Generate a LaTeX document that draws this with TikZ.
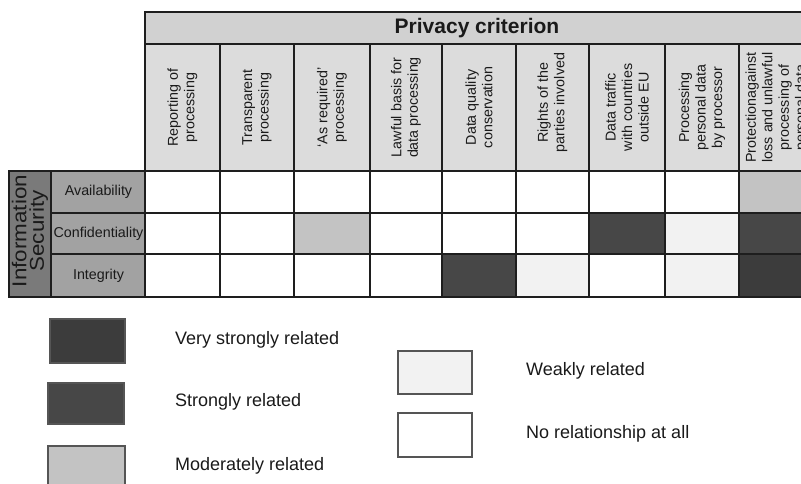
\documentclass[tikz,border=0pt]{standalone}
\usepackage{fontspec}
\setmainfont{Liberation Sans}
\definecolor{gridline}{HTML}{1E1E1E}
\definecolor{bandfill}{HTML}{D1D1D1}
\definecolor{headfill}{HTML}{DCDCDC}
\definecolor{rowfill}{HTML}{A2A2A2}
\definecolor{secfill}{HTML}{7A7A7A}
\definecolor{vstrong}{HTML}{3C3C3C}
\definecolor{strong}{HTML}{474747}
\definecolor{moderate}{HTML}{C3C3C3}
\definecolor{weak}{HTML}{F2F2F2}
\definecolor{textdark}{HTML}{1A1A1A}
\definecolor{keyline}{HTML}{555555}
% a table cell: name, left, top, right, bottom, fill
\newcommand\tabcell[6]{%
  \node[cellbox, fill=#6, minimum width={#4pt-#2pt}, minimum height={#5pt-#3pt}] (#1) at (#2,#3) {};}
% a key box: name, left, top, right, bottom, fill
\newcommand\keybox[6]{%
  \node[keyshape, fill=#6, minimum width={#4pt-#2pt}, minimum height={#5pt-#3pt}] (#1) at (#2,#3) {};}
% text stretched along its line
\newcommand\widetext[1]{\scalebox{1.12}[1]{#1}}
\begin{document}
\begin{tikzpicture}[x=1pt,y=-1pt,
  cellbox/.style={draw=gridline, line width=2pt, inner sep=0pt, outer sep=0pt, anchor=north west, rectangle},
  keyshape/.style={draw=keyline, line width=1.4pt, inner sep=0pt, outer sep=0pt, anchor=north west, rectangle},
  coltext/.style={rotate=90, align=center, text=textdark, inner sep=0pt,
    font=\fontsize{14.3}{16.5}\selectfont},
  rowtext/.style={text=textdark, inner sep=0pt, font=\fontsize{14.3}{16}\selectfont},
  keytext/.style={anchor=west, text=textdark, inner sep=0pt, font=\fontsize{18}{20}\selectfont},
]
\useasboundingbox (0,0) rectangle (801,483);
\clip (0,0) rectangle (801,483);
\fill[white] (0,0) rectangle (801,483);

% title band over the criteria
\tabcell{band}{145}{12}{815}{44}{bandfill}
\node[font=\fontsize{21}{24}\selectfont\bfseries, text=textdark] (title) at (477,28) {Privacy criterion};

% column heads
\tabcell{h1}{145}{44}{220}{171}{headfill}
\tabcell{h2}{220}{44}{294}{171}{headfill}
\tabcell{h3}{294}{44}{370}{171}{headfill}
\tabcell{h4}{370}{44}{442}{171}{headfill}
\tabcell{h5}{442}{44}{516}{171}{headfill}
\tabcell{h6}{516}{44}{589}{171}{headfill}
\tabcell{h7}{589}{44}{665}{171}{headfill}
\tabcell{h8}{665}{44}{739}{171}{headfill}
\tabcell{h9}{739}{44}{815}{171}{headfill}
\node[coltext] (t1) at (h1.center) {Reporting of\\processing};
\node[coltext] (t2) at (h2.center) {Transparent\\processing};
\node[coltext] (t3) at (h3.center) {`As required'\\processing};
\node[coltext] (t4) at (h4.center) {Lawful basis for\\data processing};
\node[coltext] (t5) at (h5.center) {Data quality\\conservation};
\node[coltext] (t6) at ([yshift=5]h6.center) {Rights of the\\parties involved};
\node[coltext] (t7) at (h7.center) {Data traffic\\with countries\\outside EU};
\node[coltext] (t8) at (h8.center) {Processing\\personal data\\by processor};
\node[coltext] (t9) at (h9.center) {Protectionagainst\\loss and unlawful\\processing of\\personal data};

% row heads
\tabcell{sec}{9}{171}{51}{297}{secfill}
\node[rotate=90, align=center, text=textdark, inner sep=0pt, font=\fontsize{20}{17.5}\selectfont] (sect) at ([yshift=3]sec.center) {\widetext{Information}\\\widetext{Security}};
\tabcell{r1}{51}{171}{146}{213}{rowfill}
\tabcell{r2}{51}{213}{146}{254}{rowfill}
\tabcell{r3}{51}{254}{146}{297}{rowfill}
\node[rowtext] (rt1) at (r1.center) {Availability};
\node[rowtext] (rt2) at (r2.center) {Confidentiality};
\node[rowtext] (rt3) at (r3.center) {Integrity};

% Availability
\tabcell{a1}{145}{171}{220}{213}{white}
\tabcell{a2}{220}{171}{294}{213}{white}
\tabcell{a3}{294}{171}{370}{213}{white}
\tabcell{a4}{370}{171}{442}{213}{white}
\tabcell{a5}{442}{171}{516}{213}{white}
\tabcell{a6}{516}{171}{589}{213}{white}
\tabcell{a7}{589}{171}{665}{213}{white}
\tabcell{a8}{665}{171}{739}{213}{white}
\tabcell{a9}{739}{171}{815}{213}{moderate}
% Confidentiality
\tabcell{b1}{145}{213}{220}{254}{white}
\tabcell{b2}{220}{213}{294}{254}{white}
\tabcell{b3}{294}{213}{370}{254}{moderate}
\tabcell{b4}{370}{213}{442}{254}{white}
\tabcell{b5}{442}{213}{516}{254}{white}
\tabcell{b6}{516}{213}{589}{254}{white}
\tabcell{b7}{589}{213}{665}{254}{strong}
\tabcell{b8}{665}{213}{739}{254}{weak}
\tabcell{b9}{739}{213}{815}{254}{strong}
% Integrity
\tabcell{c1}{145}{254}{220}{297}{white}
\tabcell{c2}{220}{254}{294}{297}{white}
\tabcell{c3}{294}{254}{370}{297}{white}
\tabcell{c4}{370}{254}{442}{297}{white}
\tabcell{c5}{442}{254}{516}{297}{strong}
\tabcell{c6}{516}{254}{589}{297}{weak}
\tabcell{c7}{589}{254}{665}{297}{white}
\tabcell{c8}{665}{254}{739}{297}{weak}
\tabcell{c9}{739}{254}{815}{297}{vstrong}

% key
\keybox{k1}{50}{319}{125}{363}{vstrong}
\keybox{k2}{48}{383}{124}{424}{strong}
\keybox{k3}{48}{446}{125}{492}{moderate}
\keybox{k4}{398}{351}{472}{394}{weak}
\keybox{k5}{398}{413}{472}{457}{white}
\node[keytext] (kt1) at (175,340) {Very strongly related};
\node[keytext] (kt2) at (175,402) {Strongly related};
\node[keytext] (kt3) at (175,466) {Moderately related};
\node[keytext] (kt4) at (526,371) {Weakly related};
\node[keytext] (kt5) at (526,434) {No relationship at all};
\end{tikzpicture}
\end{document}
